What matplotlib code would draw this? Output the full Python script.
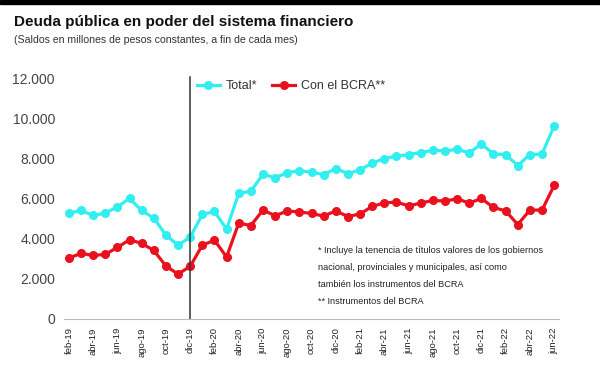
import matplotlib
matplotlib.use("Agg")
import matplotlib.pyplot as plt
from matplotlib.ticker import FuncFormatter
from matplotlib.patches import Rectangle

# Monthly balances, feb-19 .. jun-22 (millions of constant pesos)
months = ["feb-19", "mar-19", "abr-19", "may-19", "jun-19", "jul-19", "ago-19", "sep-19",
          "oct-19", "nov-19", "dic-19", "ene-20", "feb-20", "mar-20", "abr-20", "may-20",
          "jun-20", "jul-20", "ago-20", "sep-20", "oct-20", "nov-20", "dic-20", "ene-21",
          "feb-21", "mar-21", "abr-21", "may-21", "jun-21", "jul-21", "ago-21", "sep-21",
          "oct-21", "nov-21", "dic-21", "ene-22", "feb-22", "mar-22", "abr-22", "may-22",
          "jun-22"]
total = [5280, 5410, 5160, 5280, 5590, 6010, 5410, 5030, 4180, 3680, 4080, 5210, 5360,
         4480, 6260, 6370, 7220, 7040, 7300, 7390, 7320, 7200, 7500, 7250, 7440, 7770,
         8000, 8120, 8200, 8300, 8410, 8380, 8460, 8280, 8730, 8230, 8200, 7650, 8200,
         8220, 9630]
bcra = [3040, 3270, 3170, 3220, 3570, 3950, 3770, 3420, 2640, 2240, 2620, 3680, 3930,
        3090, 4780, 4660, 5430, 5150, 5380, 5340, 5260, 5130, 5390, 5110, 5240, 5610,
        5790, 5830, 5640, 5780, 5910, 5880, 5990, 5780, 6010, 5560, 5390, 4710, 5430,
        5430, 6660]
yticks = [0, 2000, 4000, 6000, 8000, 10000, 12000]
nota = ("* Incluye la tenencia de títulos valores de los gobiernos\n"
        "nacional, provinciales y municipales, así como\n"
        "también los instrumentos del BCRA\n"
        "** Instrumentos del BCRA")

plt.rcParams["font.family"] = ["Liberation Sans", "DejaVu Sans"]
cyan = "#33eef0"
red = "#e8111d"

fig = plt.figure(figsize=(6, 3.65), dpi=100)
fig.add_artist(Rectangle((0, 0.988), 1, 0.012, transform=fig.transFigure,
                         color="black", zorder=10))

ax = fig.add_axes([64 / 600, 46 / 365, 495 / 600, 240.7 / 365])
x = list(range(len(months)))
ax.plot(x, total, color=cyan, lw=2.3, marker="o", ms=5.5, label="Total*")
ax.plot(x, bcra, color=red, lw=2.3, marker="o", ms=5.5, label="Con el BCRA**")
ax.axvline(months.index("dic-19"), ymin=0, ymax=1.005, color="#333333", lw=1.1,
           clip_on=False)

ax.set_xlim(-0.4, 40.4)
ax.set_ylim(0, 12000)
ax.set_yticks(yticks)
ax.yaxis.set_major_formatter(FuncFormatter(lambda v, p: f"{int(v):,}".replace(",", ".")))
ax.set_xticks(x[::2])
ax.set_xticklabels(months[::2], rotation=90, color="#222222", fontsize=6.8)
ax.tick_params(axis="x", length=0, pad=6)
ax.tick_params(axis="y", length=0, pad=6.5, labelsize=10, labelcolor="#444444")
for s in ["top", "right", "left"]:
    ax.spines[s].set_visible(False)
ax.spines["bottom"].set_color("#bbbbbb")

ax.legend(loc="upper left", bbox_to_anchor=(0.246, 1.04), ncol=2, frameon=False,
          fontsize=9, handlelength=1.8, columnspacing=1.2, handletextpad=0.5,
          labelcolor="#333333")

fig.text(318 / 600, 1 - 246 / 365, nota, va="top", linespacing=2.15,
         fontsize=6.6, color="#222222")

fig.text(14 / 600, 1 - 22 / 365, "Deuda pública en poder del sistema financiero",
         fontsize=11, fontweight="bold", va="center", color="#111111")
fig.text(14 / 600, 1 - 40 / 365, "(Saldos en millones de pesos constantes, a fin de cada mes)",
         fontsize=7.6, va="center", color="#333333")

fig.savefig("out.png", dpi=100)
